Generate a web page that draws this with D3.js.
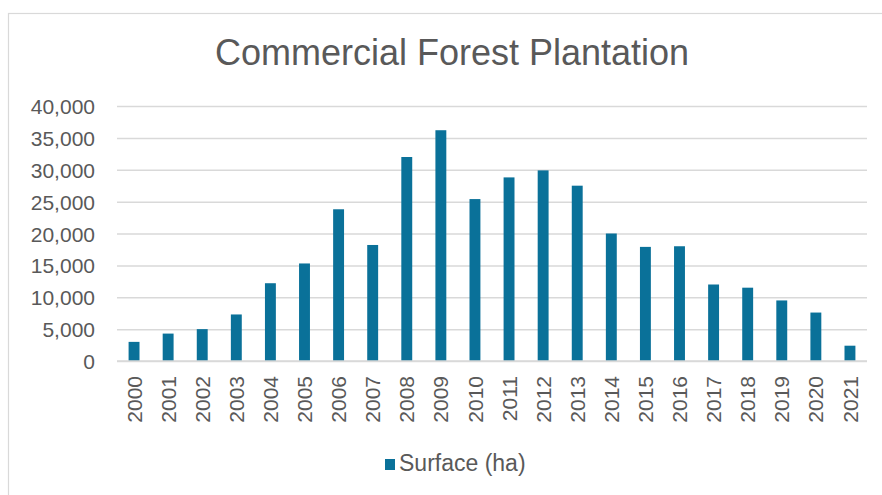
<!DOCTYPE html>
<html>
<head>
<meta charset="utf-8">
<script src="https://cdn.jsdelivr.net/npm/d3@7"></script>
<style>
  html, body { margin: 0; padding: 0; background: #fff; }
  svg { display: block; font-family: "Liberation Sans", Arial, sans-serif; }
</style>
</head>
<body>
<svg id="chart" width="882" height="495"></svg>
<script>
// Planted surface per year, in hectares
const years = ["2000", "2001", "2002", "2003", "2004", "2005", "2006", "2007", "2008", "2009", "2010",
               "2011", "2012", "2013", "2014", "2015", "2016", "2017", "2018", "2019", "2020", "2021"];
const surface = [3000, 4300, 5000, 7300, 12200, 15300, 23800, 18200, 32000, 36200, 25400,
                 28800, 29900, 27500, 20000, 17900, 18000, 12000, 11500, 9500, 7600, 2400];
const yTicks = [0, 5000, 10000, 15000, 20000, 25000, 30000, 35000, 40000];
const chartTitle = "Commercial Forest Plantation";
const seriesName = "Surface (ha)";

const W = 882, H = 495;
const plot = { left: 117, right: 867, top: 106, bottom: 361 };
const barColor = "#0a7199";
const textColor = "#595959";
const gridColor = "#d9d9d9";

const svg = d3.select("#chart");

// outer chart frame
svg.append("rect")
  .attr("x", 8.5).attr("y", 13.5)
  .attr("width", W + 20).attr("height", H + 20)
  .attr("fill", "#fff").attr("stroke", gridColor).attr("stroke-width", 1.2);

const x = d3.scaleBand().domain(years).range([plot.left, plot.right]).paddingInner(0.68).paddingOuter(0.34);
const y = d3.scaleLinear().domain([0, 40000]).range([plot.bottom, plot.top]);

// horizontal gridlines + y labels
const yAxis = d3.axisLeft(y).tickValues(yTicks).tickSize(-(plot.right - plot.left))
  .tickPadding(22).tickFormat(d3.format(","));
const gy = svg.append("g").attr("transform", `translate(${plot.left},0)`).call(yAxis);
gy.select(".domain").remove();
gy.selectAll(".tick line").attr("stroke", gridColor).attr("stroke-width", 1.5);
gy.selectAll(".tick text").attr("fill", textColor).style("font-size", "21px")
  .attr("dy", "0.36em");

// bars
svg.append("g").selectAll("rect").data(years).join("rect")
  .attr("x", d => x(d))
  .attr("width", x.bandwidth())
  .attr("y", (d, i) => y(surface[i]))
  .attr("height", (d, i) => y(0) - y(surface[i]))
  .attr("fill", barColor);

// category axis with rotated year labels
const xAxis = d3.axisBottom(x).tickSize(0).tickPadding(0);
const gx = svg.append("g").attr("transform", `translate(0,${plot.bottom})`).call(xAxis);
gx.select(".domain").attr("stroke", gridColor).attr("stroke-width", 1.5)
  .attr("d", `M${plot.left},0H${plot.right}`);
gx.selectAll(".tick text")
  .attr("fill", textColor).style("font-size", "21px")
  .attr("text-anchor", "end")
  .attr("transform", "translate(0,15) rotate(-90)")
  .attr("x", 0).attr("y", 0).attr("dy", "0.36em");

// title
svg.append("text")
  .attr("x", 452).attr("y", 65)
  .attr("text-anchor", "middle")
  .attr("fill", textColor).style("font-size", "36px")
  .text(chartTitle);

// legend
const lg = svg.append("g").attr("transform", "translate(385,459)");
lg.append("rect").attr("width", 10).attr("height", 11).attr("fill", barColor);
lg.append("text").attr("x", 14).attr("y", 12)
  .attr("fill", textColor).style("font-size", "23px").text(seriesName);
</script>
</body>
</html>
